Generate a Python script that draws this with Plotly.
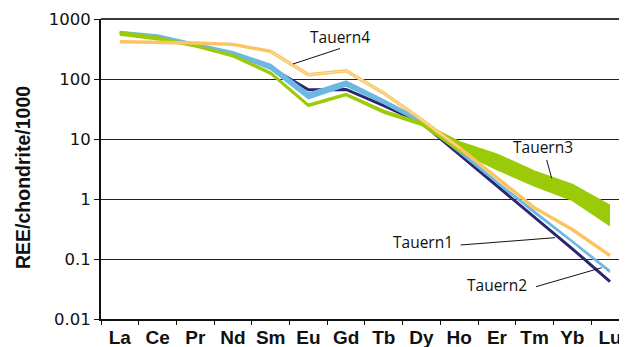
import plotly.graph_objects as go

elements = ["La", "Ce", "Pr", "Nd", "Sm", "Eu", "Gd", "Tb", "Dy", "Ho", "Er", "Tm", "Yb", "Lu"]

# Tauern1 (light blue band)
tauern1_upper = [620, 540, 390, 285, 175, 58, 92, 45, 21, 6.6, 1.95, 0.62, 0.20, 0.064]
tauern1_lower = [560, 490, 350, 255, 145, 47, 76, 39, 18.5, 6.0, 1.85, 0.58, 0.19, 0.060]
# Tauern2 (dark navy)
tauern2 = [590, 500, 365, 265, 155, 66, 67, 36, 18.5, 5.5, 1.63, 0.49, 0.148, 0.042]
# Tauern3 (green band)
tauern3_upper = [620, 500, 365, 255, 130, 38, 57, 30, 19, 9.0, 5.6, 2.9, 1.75, 0.78]
tauern3_lower = [540, 450, 345, 235, 120, 35, 53, 27, 17, 6.2, 3.1, 1.65, 0.95, 0.36]
# Tauern4 (orange)
tauern4 = [418, 410, 398, 377, 288, 118, 137, 58, 21, 7.2, 2.26, 0.71, 0.31, 0.114]

y_tickvals = [0.01, 0.1, 1, 10, 100, 1000]
y_ticktext = ["0.01", "0.1", "1", "10", "100", "1000"]

# page has an 8px body margin: figure is placed at (8, 8) in the window
OFF = 8
W, H = 627 - OFF, 347 - OFF
ML, MR, MT = 101 - OFF, 0, 19 - OFF
MB = H - (319 - OFF)
PW, PH = W - ML - MR, H - MT - MB


def px(x):  # page pixel -> paper
    return (x - OFF - ML) / PW


def py(y):
    return (H - MB - (y - OFF)) / PH


BLUE = "#6cb8e2"
NAVY = "#2b2672"
GREEN = "#9bcb08"
ORANGE = "#fcc45e"
ORANGE_LIGHT = "#fde4ae"

fig = go.Figure()
fig.add_trace(go.Scatter(x=elements, y=tauern2, mode="lines",
                         line=dict(color=NAVY, width=3), showlegend=False))
fig.add_trace(go.Scatter(x=elements, y=tauern1_lower, mode="lines",
                         line=dict(color=BLUE, width=1.5), showlegend=False))
fig.add_trace(go.Scatter(x=elements, y=tauern1_upper, mode="lines", fill="tonexty",
                         fillcolor=BLUE, line=dict(color=BLUE, width=1.5), showlegend=False))
fig.add_trace(go.Scatter(x=elements, y=tauern3_lower, mode="lines",
                         line=dict(color=GREEN, width=1.5), showlegend=False))
fig.add_trace(go.Scatter(x=elements, y=tauern3_upper, mode="lines", fill="tonexty",
                         fillcolor=GREEN, line=dict(color=GREEN, width=1.5), showlegend=False))
fig.add_trace(go.Scatter(x=elements, y=tauern4, mode="lines",
                         line=dict(color=ORANGE, width=3.4), showlegend=False))
# lighter core of the orange line in the middle of the pattern
tauern4_core = [v if 4 <= i <= 9 else None for i, v in enumerate(tauern4)]
fig.add_trace(go.Scatter(x=elements, y=tauern4_core, mode="lines",
                         line=dict(color=ORANGE_LIGHT, width=1), showlegend=False))

ann_font = dict(family="Open Sans, Noto Sans, sans-serif", size=15.5, color="#111")
labels = [
    ("Tauern4", 340, 37, [(293, 64), (340, 48.5)]),
    ("Tauern3", 542.5, 147, [(546.7, 160), (551.7, 178.3)]),
    ("Tauern1", 423, 241.5, [(460.7, 245), (555, 237.7)]),
    ("Tauern2", 497, 285, [(536, 286.7), (601.7, 267.7)]),
]
for text, tx, ty, pts in labels:
    fig.add_annotation(text=text, x=px(tx), y=py(ty), xref="paper", yref="paper",
                       showarrow=False, font=ann_font, xanchor="center", yanchor="middle")
    (x0, y0), (x1, y1) = pts
    fig.add_shape(type="line", xref="paper", yref="paper",
                  x0=px(x0), y0=py(y0), x1=px(x1), y1=py(y1),
                  line=dict(color="#111", width=1))

# top border line
fig.add_shape(type="line", xref="paper", yref="paper", x0=0, x1=1, y0=1, y1=1,
              line=dict(color="#3a3a3a", width=2))

fig.add_annotation(text="REE/chondrite/1000", x=px(23), y=py(178), xref="paper", yref="paper",
                   showarrow=False, textangle=-90,
                   font=dict(family="Liberation Sans, Arial, sans-serif", size=19.5,
                             color="#111", weight="bold"),
                   xanchor="center", yanchor="middle")

fig.update_layout(
    width=W, height=H,
    margin=dict(l=ML, r=MR, t=MT, b=MB, autoexpand=False),
    paper_bgcolor="white", plot_bgcolor="white",
    xaxis=dict(
        type="category", range=[-0.5, 13.45], tickson="boundaries",
        ticks="outside", ticklen=4, tickcolor="#111", tickwidth=1,
        showline=True, linecolor="#111", linewidth=2,
        showgrid=False, zeroline=False, tickangle=0, automargin=False,
        tickfont=dict(family="Liberation Sans, Arial, sans-serif", size=19,
                      color="#111", weight="bold"),
    ),
    yaxis=dict(
        type="log", range=[-2, 3], automargin=False,
        tickvals=y_tickvals, ticktext=y_ticktext,
        ticks="outside", ticklen=5, tickcolor="#111", tickwidth=1,
        showline=True, linecolor="#111", linewidth=2,
        showgrid=True, gridcolor="#222", gridwidth=1,
        zeroline=False,
        tickfont=dict(family="DejaVu Sans, Verdana, sans-serif", size=16.5, color="#111"),
    ),
)

fig.write_html("out.html")
